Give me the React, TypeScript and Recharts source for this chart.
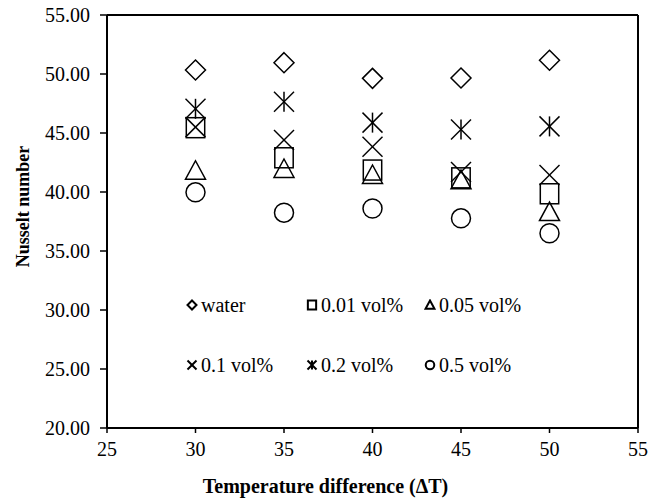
import React from "react";
import {
  ScatterChart, Scatter, XAxis, YAxis, ReferenceLine, Legend,
} from "recharts";

const FONT = "'Liberation Serif', 'Times New Roman', serif";

// temperature differences (x)
const temps = [30, 35, 40, 45, 50];

// Nusselt numbers per fluid
const water = [50.34, 50.96, 49.63, 49.66, 51.16];
const vol001 = [45.45, 42.9, 41.86, 41.2, 39.85];
const vol005 = [41.8, 41.95, 41.44, 41.0, 38.3];
const vol01 = [45.5, 44.4, 43.84, 41.7, 41.44];
const vol02 = [47.05, 47.65, 45.88, 45.3, 45.56];
const vol05 = [39.97, 38.25, 38.6, 37.77, 36.5];

const xTicks = [25, 30, 35, 40, 45, 50, 55];
const yTicks = [20, 25, 30, 35, 40, 45, 50, 55];

type Kind = "diamond" | "square" | "triangle" | "cross" | "star" | "circle";

const seriesList: { name: string; kind: Kind; values: number[] }[] = [
  { name: "water", kind: "diamond", values: water },
  { name: "0.01 vol%", kind: "square", values: vol001 },
  { name: "0.05 vol%", kind: "triangle", values: vol005 },
  { name: "0.1 vol%", kind: "cross", values: vol01 },
  { name: "0.2 vol%", kind: "star", values: vol02 },
  { name: "0.5 vol%", kind: "circle", values: vol05 },
];

function Marker({ kind, cx, cy, r, sw }: { kind: Kind; cx: number; cy: number; r: number; sw: number }) {
  const common = { fill: "none", stroke: "#000", strokeWidth: sw };
  switch (kind) {
    case "diamond":
      return <polygon {...common} points={`${cx},${cy - r} ${cx + r},${cy} ${cx},${cy + r} ${cx - r},${cy}`} />;
    case "square":
      return <rect {...common} x={cx - r * 0.92} y={cy - r} width={r * 1.84} height={r * 2} />;
    case "triangle":
      return <polygon {...common} points={`${cx},${cy - r} ${cx + r},${cy + r * 0.85} ${cx - r},${cy + r * 0.85}`} />;
    case "cross":
      return (
        <g {...common}>
          <line x1={cx - r} y1={cy - r} x2={cx + r} y2={cy + r} />
          <line x1={cx - r} y1={cy + r} x2={cx + r} y2={cy - r} />
        </g>
      );
    case "star":
      return (
        <g {...common}>
          <line x1={cx - r} y1={cy - r} x2={cx + r} y2={cy + r} />
          <line x1={cx - r} y1={cy + r} x2={cx + r} y2={cy - r} />
          <line x1={cx} y1={cy - r} x2={cx} y2={cy + r} />
        </g>
      );
    default:
      return <circle {...common} cx={cx} cy={cy} r={r * 0.95} />;
  }
}

function LegendBox() {
  const cols = [186, 306, 424];
  const rows = [305, 365];
  return (
    <div style={{ position: "relative", height: 0, fontFamily: FONT }}>
      {seriesList.map((s, i) => (
        <div
          key={s.name}
          style={{
            position: "absolute",
            left: cols[i % 3],
            top: rows[Math.floor(i / 3)] - 13,
            height: 26,
            display: "flex",
            alignItems: "center",
            whiteSpace: "nowrap",
            fontSize: 20,
            color: "#000",
          }}
        >
          <svg width={12} height={12} style={{ marginRight: 3 }}>
            <Marker kind={s.kind} cx={6} cy={6} r={4.5} sw={2} />
          </svg>
          {s.name}
        </div>
      ))}
    </div>
  );
}

export default function App() {
  return (
    <div style={{ position: "absolute", left: 0, top: 0, width: 662, height: 500, background: "#fff" }}>
      <ScatterChart
        width={662}
        height={500}
        margin={{ top: 15, right: 24, bottom: 0, left: 0 }}
        style={{ fontFamily: FONT }}
      >
        <XAxis
          type="number"
          dataKey="x"
          domain={[25, 55]}
          ticks={xTicks}
          height={72}
          axisLine={{ stroke: "#000", strokeWidth: 2 }}
          tickLine={{ stroke: "#000", strokeWidth: 1.5 }}
          tickSize={5}
          tickMargin={9}
          tick={{ fill: "#000", fontSize: 20 }}
          label={{
            value: "Temperature difference (\u0394T)",
            position: "insideBottom",
            offset: 7,
            dx: -47,
            style: { fill: "#000", fontSize: 20, fontWeight: "bold" },
          }}
        />
        <YAxis
          type="number"
          dataKey="y"
          domain={[20, 55]}
          ticks={yTicks}
          width={107}
          axisLine={{ stroke: "#000", strokeWidth: 2 }}
          tickLine={{ stroke: "#000", strokeWidth: 1.5 }}
          tickSize={7}
          tickMargin={10}
          tickFormatter={(v: number) => v.toFixed(2)}
          tick={{ fill: "#000", fontSize: 20 }}
          label={{
            value: "Nusselt number",
            angle: -90,
            position: "center",
            dx: -31,
            dy: -15,
            style: { fill: "#000", fontSize: 18, fontWeight: "bold", textAnchor: "middle" },
          }}
        />
        <ReferenceLine y={55} stroke="#000" strokeWidth={2} />
        <ReferenceLine x={55} stroke="#000" strokeWidth={2} />
        {seriesList.map((s) => (
          <Scatter
            key={s.name}
            name={s.name}
            data={temps.map((t, i) => ({ x: t, y: s.values[i] }))}
            isAnimationActive={false}
            shape={(p: any) => <Marker kind={s.kind} cx={p.cx} cy={p.cy} r={10} sw={1.5} />}
          />
        ))}
        <Legend
          verticalAlign="top"
          content={() => <LegendBox />}
          wrapperStyle={{ left: 0, top: 0, width: 662, height: 0 }}
        />
      </ScatterChart>
    </div>
  );
}
